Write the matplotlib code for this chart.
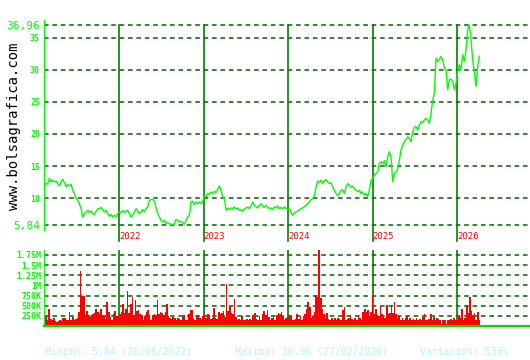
import matplotlib
matplotlib.use("Agg")
import matplotlib.pyplot as plt
import pandas as pd

# weekly close (EUR)
price = [
    12.45, 12.14, 12.3, 13.08, 12.56, 12.82, 12.56, 12.66, 12.3, 11.93, 12.56, 12.97, 12.45,
    11.77, 12.14, 11.93, 12.19, 11.25, 10.73, 9.95, 9.69, 9.17, 8.39, 7.09, 7.61, 7.87, 8.13,
    7.76, 8.03, 7.61, 7.45, 7.97, 8.39, 8.29, 8.6, 8.23, 7.87, 8.13, 7.61, 7.19, 7.5, 7.09,
    7.35, 7.09, 7.61, 7.87, 7.76, 8.13, 7.76, 8.03, 8.13, 7.61, 7.09, 7.35, 7.87, 8.39, 8.03,
    7.61, 7.87, 8.23, 7.87, 8.39, 8.65, 9.69, 9.8, 9.8, 9.54, 8.49, 7.61, 7.09, 6.57, 6.31,
    6.57, 6.05, 6.2, 6.0,
    6.0, 5.84, 6.05, 6.72, 6.57, 6.31, 6.41, 6.2, 5.95, 6.57, 7.09, 7.35, 9.43, 9.54, 9.01,
    9.43, 9.17, 9.43, 9.17, 9.54, 10.37, 10.21, 10.73, 10.58, 10.99, 10.73, 11.1, 10.89,
    11.41, 11.93, 11.25, 10.21, 9.95, 8.13, 8.49, 8.23, 8.49, 8.39, 8.65, 8.29, 8.49, 8.13,
    8.23, 7.97, 8.39, 8.49, 8.65, 8.39, 8.81, 9.43, 8.91, 8.65, 8.49, 8.91, 9.17, 8.81, 8.55,
    8.91, 8.65, 8.39, 8.49, 8.23, 8.65, 8.49, 8.81, 8.39, 8.55, 8.39, 8.65, 8.39, 8.23, 8.49,
    7.76, 7.35, 7.71,
    7.9, 8.0, 8.2, 8.4, 8.5, 8.7, 8.9, 9.16, 9.42, 9.79, 9.95, 10.47, 11.77, 12.71, 12.39,
    12.81, 12.29, 12.71, 12.91, 12.55, 12.29, 12.39, 11.77, 11.25, 10.73, 10.47, 10.73, 11.25,
    11.35, 10.73, 11.77, 12.29, 12.03, 11.77, 11.87, 11.51, 11.25, 10.99, 11.25, 10.73, 10.99,
    10.47, 10.73, 10.31, 11.25, 12.81, 13.07, 13.59, 13.85, 14.11, 15.41, 15.67, 15.41, 15.83,
    14.89, 16.46,
    17.24, 16.46, 12.55, 13.85, 14.1, 14.63, 15.94, 17.5, 18.28, 18.8, 19.17, 19.58, 19.32,
    18.8, 20.37, 21.04, 21.15, 20.63, 21.41, 21.93, 21.77, 22.19, 22.45, 22.19, 21.67, 23.23,
    25.31, 26.35,
    31.8, 31.3, 31.56, 32.1, 31.56, 30.26, 30.0, 26.88, 28.44, 28.54, 28.2, 26.88, 27.9,
    29.74, 30.78, 30.0, 32.35, 31.3, 33.13, 36.25, 36.96, 34.7, 31.56, 29.5, 27.4, 30.5, 32.1,
]

# weekly volume in thousands of shares
volume_k = [
    137, 237, 137, 429, 179, 137, 204, 121, 96, 121, 154, 121, 204, 204, 137, 154, 346, 154,
    221, 137, 179, 204, 346, 1362, 737, 737, 262, 371, 262, 221, 262, 304, 321, 429, 346, 304,
    412, 262, 237, 179, 596, 346, 221, 137, 287, 371, 237, 237, 287, 346, 537, 321, 429, 871,
    321, 537, 721, 262, 637, 371, 404, 304, 262, 154, 237, 346, 404, 262, 154, 262, 287, 262,
    637, 287, 346, 321, 262, 346, 537, 237, 204, 179, 221, 204, 154, 204, 179, 154, 221, 262,
    154, 137,
    287, 404, 387, 204, 154, 221, 262, 204, 179, 237, 321, 204, 304, 262, 179, 204, 454, 204,
    179, 346, 287, 321, 371, 221, 1037, 371, 504, 321, 287, 662, 221, 154, 179, 137, 237, 154,
    137, 179, 154, 179, 154, 262, 321, 179, 154, 237, 154, 287, 371, 262, 404, 221, 154, 204,
    262, 137, 262, 321, 287, 346, 237, 154, 204, 221, 262, 237, 137, 154, 179, 287, 179, 237,
    154, 237, 287, 429, 596, 471, 204, 237, 346, 762, 704, 1900, 679, 429, 287, 204, 321, 179,
    154, 204, 137, 204, 154,
    204, 179, 154, 387, 471, 154, 179, 204, 262, 179, 137, 204, 154, 262, 204, 137, 346, 429,
    346, 404, 237, 346, 762, 287, 429, 262, 237, 487, 287, 262, 204, 512, 287, 321, 512, 321,
    596, 287, 204, 237, 154, 204, 137, 204, 237, 137, 204, 154, 179, 137, 204, 154, 179, 154,
    221, 287, 137, 137, 179, 287, 154, 221, 137, 204, 179, 137, 37, 154, 137, 37, 137, 154,
    179, 137, 204, 137, 154, 237, 204, 429, 137, 204, 512, 321, 721, 371, 262, 321, 154, 346,
    137,
]

years = [2022, 2023, 2024, 2025, 2026]
price_ticks = [5.84, 10, 15, 20, 25, 30, 35, 36.96]
price_labels = ["5,84", "10", "15", "20", "25", "30", "35", "36,96"]
vol_ticks = [250e3, 500e3, 750e3, 1e6, 1.25e6, 1.5e6, 1.75e6]
vol_labels = ["250K", "500K", "750K", "1M", "1.25M", "1.5M", "1.75M"]

start = pd.Timestamp("2021-02-12")
end = pd.Timestamp("2026-04-08")
dates_p = pd.date_range(start, end, periods=len(price))
dates_v = pd.date_range(start, end, periods=len(volume_k))
vols = [v * 1000 for v in volume_k]
xmin = pd.Timestamp("2021-02-08")
xmax = pd.Timestamp("2026-11-13")

mono = "DejaVu Sans Mono"
bright = "#00ff00"
grid_c = "#006400"
year_c = "#008000"
dash = (0, (3, 2.5))

fig = plt.figure(figsize=(5.3, 3.6), dpi=100)
fig.patch.set_facecolor("white")
L = 43.5 / 530
ax = fig.add_axes([L, 1 - 230 / 360, 1 - L, 210 / 360])
axv = fig.add_axes([L, 1 - 326 / 360, 1 - L, 76 / 360])

# price panel
ax.plot(dates_p, price, color=bright, lw=1.0, zorder=3)
ax.set_xlim(xmin, xmax)
ax.set_ylim(5.84 - 5 * 31.12 / 200, 36.96 + 5 * 31.12 / 200)
ax.set_yticks(price_ticks, price_labels)
ax.tick_params(axis="y", length=0, pad=2.5, colors=bright, labelsize=6)
ax.set_xticks([])
for lbl in ax.get_yticklabels():
    lbl.set_family(mono)
    lbl.set_weight("bold")
for lbl in (ax.get_yticklabels()[0], ax.get_yticklabels()[-1]):
    lbl.set_fontsize(8)
    lbl.set_weight("normal")
ax.grid(axis="y", color=grid_c, linestyle=dash, lw=1.1)
for s in ["top", "right", "bottom"]:
    ax.spines[s].set_visible(False)
ax.spines["left"].set_color(bright)
ax.spines["left"].set_linewidth(1.0)

for y in years:
    d = pd.Timestamp(f"{y}-01-01")
    ax.plot([d, d], [0.976, -0.052], transform=ax.get_xaxis_transform(),
            color=year_c, lw=1.2, clip_on=False, zorder=2)
    ax.text(d, -0.029, str(y), transform=ax.get_xaxis_transform(), color="#ff0000",
            fontsize=6.5, family=mono, ha="left", va="center")
    axv.axvline(d, color=year_c, lw=1.2, zorder=0.8)

# volume panel
axv.bar(dates_v, vols, width=(end - start).days / len(vols) * 1.05,
        color="#ff0000", linewidth=0, zorder=2)
axv.set_xlim(xmin, xmax)
axv.set_ylim(0, 1873e3)
axv.set_axisbelow(True)
axv.set_yticks(vol_ticks, vol_labels)
axv.tick_params(axis="y", length=0, pad=1.5, colors=bright, labelsize=6)
axv.set_xticks([])
for lbl in axv.get_yticklabels():
    lbl.set_family(mono)
    lbl.set_weight("bold")
axv.grid(axis="y", color=grid_c, linestyle=dash, lw=1.1)
for s in ["top", "right"]:
    axv.spines[s].set_visible(False)
axv.spines["left"].set_color(bright)
axv.spines["bottom"].set_color("#00dd00")
axv.spines["bottom"].set_linewidth(1.6)

fig.text(14 / 530, 1 - 126 / 360, "www.bolsagrafica.com", rotation=90, family=mono,
         fontsize=10, ha="center", va="center", color="black")

foot = "#b4f4ff"
fig.text(45 / 530, 1 - 352 / 360, "Minimo: 5,84 (26/08/2022)", family=mono, fontsize=7,
         color=foot, va="center")
fig.text(235 / 530, 1 - 352 / 360, "Maximo: 36,96 (27/02/2026)", family=mono, fontsize=7,
         color=foot, va="center")
fig.text(420 / 530, 1 - 352 / 360, "Variación: 533%", family=mono, fontsize=7,
         color=foot, va="center")

fig.savefig("out.png", dpi=100)
